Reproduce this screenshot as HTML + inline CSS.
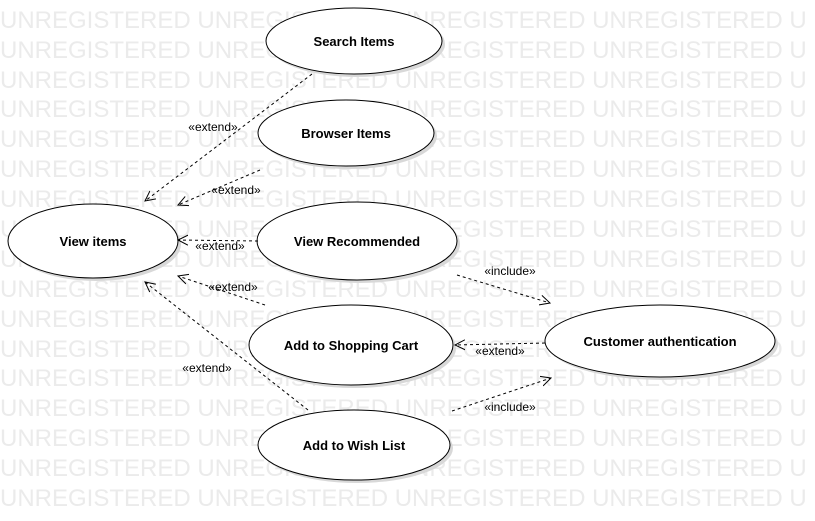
<!DOCTYPE html><html><head><style>body{margin:0;background:#fff}svg{display:block}</style></head><body>
<svg width="815" height="521" xmlns="http://www.w3.org/2000/svg" font-family="Liberation Sans, sans-serif">
<defs><marker id="a" markerWidth="12" markerHeight="12" refX="10" refY="6" orient="auto" markerUnits="userSpaceOnUse"><path d="M0,1 L10,6 L0,11" fill="none" stroke="#000" stroke-width="1"/></marker></defs>
<g fill="#ebebeb" font-size="24" font-weight="normal">
<text x="0" y="28">UNREGISTERED UNREGISTERED UNREGISTERED UNREGISTERED U</text>
<text x="0" y="58">UNREGISTERED UNREGISTERED UNREGISTERED UNREGISTERED U</text>
<text x="0" y="88">UNREGISTERED UNREGISTERED UNREGISTERED UNREGISTERED U</text>
<text x="0" y="117">UNREGISTERED UNREGISTERED UNREGISTERED UNREGISTERED U</text>
<text x="0" y="147">UNREGISTERED UNREGISTERED UNREGISTERED UNREGISTERED U</text>
<text x="0" y="177">UNREGISTERED UNREGISTERED UNREGISTERED UNREGISTERED U</text>
<text x="0" y="207">UNREGISTERED UNREGISTERED UNREGISTERED UNREGISTERED U</text>
<text x="0" y="237">UNREGISTERED UNREGISTERED UNREGISTERED UNREGISTERED U</text>
<text x="0" y="267">UNREGISTERED UNREGISTERED UNREGISTERED UNREGISTERED U</text>
<text x="0" y="297">UNREGISTERED UNREGISTERED UNREGISTERED UNREGISTERED U</text>
<text x="0" y="327">UNREGISTERED UNREGISTERED UNREGISTERED UNREGISTERED U</text>
<text x="0" y="357">UNREGISTERED UNREGISTERED UNREGISTERED UNREGISTERED U</text>
<text x="0" y="386">UNREGISTERED UNREGISTERED UNREGISTERED UNREGISTERED U</text>
<text x="0" y="416">UNREGISTERED UNREGISTERED UNREGISTERED UNREGISTERED U</text>
<text x="0" y="446">UNREGISTERED UNREGISTERED UNREGISTERED UNREGISTERED U</text>
<text x="0" y="476">UNREGISTERED UNREGISTERED UNREGISTERED UNREGISTERED U</text>
<text x="0" y="506">UNREGISTERED UNREGISTERED UNREGISTERED UNREGISTERED U</text>
</g>
<g fill="#d8d8d8">
<ellipse cx="357" cy="44" rx="88" ry="33"/><ellipse cx="349" cy="136" rx="88" ry="33"/>
<ellipse cx="96" cy="244" rx="85" ry="37"/><ellipse cx="360" cy="244" rx="100" ry="39"/>
<ellipse cx="354" cy="348" rx="102" ry="40"/><ellipse cx="663" cy="344" rx="115" ry="36"/>
<ellipse cx="357" cy="448" rx="96" ry="35"/></g>
<g fill="#fff" stroke="#000" stroke-width="1">
<ellipse cx="354" cy="41" rx="88" ry="33"/><ellipse cx="346" cy="133" rx="88" ry="33"/>
<ellipse cx="93" cy="241" rx="85" ry="37"/><ellipse cx="357" cy="241" rx="100" ry="39"/>
<ellipse cx="351" cy="345" rx="102" ry="40"/><ellipse cx="660" cy="341" rx="115" ry="36"/>
<ellipse cx="354" cy="445" rx="96" ry="35"/></g>
<g font-size="13" font-weight="bold" text-anchor="middle" fill="#000">
<text x="354" y="46">Search Items</text><text x="346" y="138">Browser Items</text>
<text x="93" y="246">View items</text><text x="357" y="246">View Recommended</text>
<text x="351" y="350">Add to Shopping Cart</text><text x="660" y="346">Customer authentication</text>
<text x="354" y="450">Add to Wish List</text></g>
<g stroke="#000" stroke-dasharray="3,3" fill="none" marker-end="url(#a)">
<path d="M312,74 L145,201"/><path d="M260,170 L178,205"/><path d="M258,241 L178,240"/>
<path d="M265,305 L178,276"/><path d="M308,410 L145,282"/><path d="M457,275 L550,303"/>
<path d="M545,343 L455,345"/><path d="M452,411 L551,378"/></g>
<g font-size="12" text-anchor="middle" fill="#000">
<text x="213" y="131">«extend»</text><text x="236" y="194">«extend»</text>
<text x="220" y="250">«extend»</text><text x="233" y="291">«extend»</text>
<text x="207" y="372">«extend»</text><text x="510" y="275">«include»</text>
<text x="500" y="355">«extend»</text><text x="510" y="411">«include»</text></g>
</svg></body></html>
